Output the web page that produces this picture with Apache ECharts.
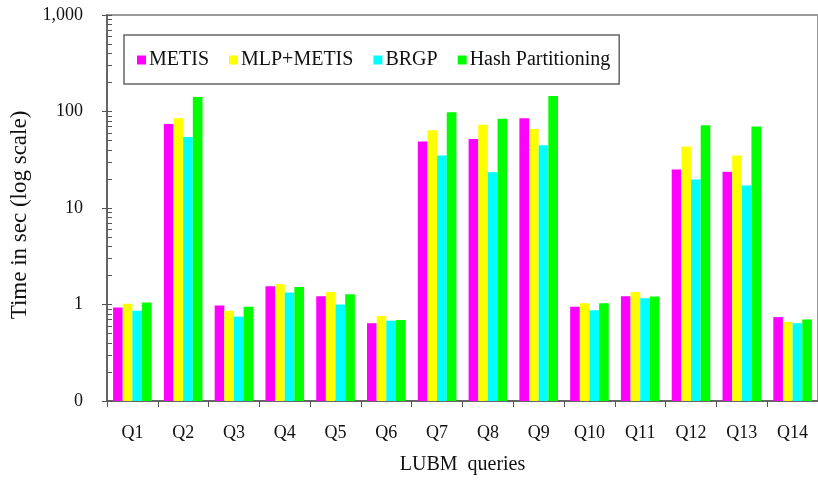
<!DOCTYPE html>
<html>
<head>
<meta charset="utf-8">
<script src="https://cdn.jsdelivr.net/npm/echarts@6/dist/echarts.min.js"></script>
<style>
  html, body { margin: 0; padding: 0; background: #fff; }
  #chart { width: 818px; height: 480px; }
</style>
</head>
<body>
<div id="chart"></div>
<script>
// LUBM query times (seconds) per partitioning scheme
const queries = ['Q1', 'Q2', 'Q3', 'Q4', 'Q5', 'Q6', 'Q7', 'Q8', 'Q9', 'Q10', 'Q11', 'Q12', 'Q13', 'Q14'];
const metis    = [0.93, 74, 0.975, 1.55, 1.22, 0.64, 49, 52, 85, 0.95, 1.22, 25, 23.7, 0.74];
const mlpMetis = [1.02, 85, 0.86, 1.62, 1.35, 0.76, 64, 73, 66, 1.03, 1.35, 43.5, 35, 0.66];
const brgp     = [0.86, 54.5, 0.75, 1.33, 1.0, 0.68, 35, 23.4, 44.6, 0.87, 1.16, 19.7, 17.1, 0.64];
const hashPart = [1.05, 141, 0.95, 1.52, 1.28, 0.69, 98, 84, 145, 1.03, 1.21, 72, 70, 0.70];

const seriesNames = ['METIS', 'MLP+METIS', 'BRGP', 'Hash Partitioning'];
const seriesColors = ['#ff00ff', '#ffff00', '#00ffff', '#00ff00'];
const seriesData = [metis, mlpMetis, brgp, hashPart];

// minor log ticks (2..9 within each decade)
const minorTickValues = [];
[0.1, 1, 10, 100].forEach(function (d) {
  for (let k = 2; k <= 9; k++) minorTickValues.push(+(d * k).toPrecision(3));
});

const serif = '"Liberation Serif", "DejaVu Serif", serif';

const chart = echarts.init(document.getElementById('chart'), null, { renderer: 'canvas' });

chart.setOption({
  animation: false,
  backgroundColor: '#ffffff',
  textStyle: { fontFamily: serif },
  grid: {
    left: 107, top: 15, bottom: 78, right: -13,
    show: true, borderColor: '#9a9a9a', borderWidth: 2, backgroundColor: 'transparent'
  },
  legend: {
    data: seriesNames,
    left: 124, top: 35,
    orient: 'horizontal',
    borderColor: '#666', borderWidth: 1.5,
    padding: [15, 9, 14, 13],
    itemWidth: 9, itemHeight: 9, itemGap: 20,
    icon: 'rect',
    textStyle: { fontFamily: serif, fontSize: 20, color: '#111', padding: [0, 0, 0, -2] }
  },
  xAxis: {
    type: 'category',
    data: queries,
    name: 'LUBM  queries',
    nameLocation: 'middle',
    nameGap: 54,
    nameTextStyle: { fontFamily: serif, fontSize: 20, color: '#111' },
    axisLine: { onZero: false, lineStyle: { color: '#555', width: 1.5 } },
    axisTick: { show: true, length: 6, lineStyle: { color: '#555' } },
    axisLabel: { fontFamily: serif, fontSize: 18, color: '#111', margin: 23 }
  },
  yAxis: [
    {
      type: 'log',
      logBase: 10,
      min: 0.1, max: 1000,
      startValue: 0.1,
      name: 'Time in sec (log scale)',
      nameLocation: 'middle',
      nameGap: 70,
      nameRotate: 90,
      nameTextStyle: { fontFamily: serif, fontSize: 23, color: '#111', padding: [0, 14, 0, 0] },
      axisLine: { show: true, lineStyle: { color: '#555', width: 1.5 } },
      axisTick: { show: true, length: 5, lineStyle: { color: '#555' } },
      splitLine: { show: false },
      axisLabel: {
        fontFamily: serif, fontSize: 18, color: '#111', margin: 24,
        formatter: function (v) {
          return Math.round(v).toLocaleString('en-US');
        }
      }
    },
    {
      type: 'log',
      logBase: 10,
      min: 0.1, max: 1000,
      position: 'left',
      axisLine: { show: false },
      axisLabel: { show: false },
      splitLine: { show: false },
      axisTick: {
        show: true, inside: true, length: 5,
        lineStyle: { color: '#555' },
        customValues: minorTickValues.concat([0.1, 1, 10, 100, 1000])
      }
    }
  ],
  series: seriesNames.map(function (name, i) {
    return {
      name: name,
      type: 'bar',
      yAxisIndex: 0,
      data: seriesData[i],
      itemStyle: { color: seriesColors[i] },
      barGap: '0%',
      barCategoryGap: '24%'
    };
  })
});
</script>
</body>
</html>
